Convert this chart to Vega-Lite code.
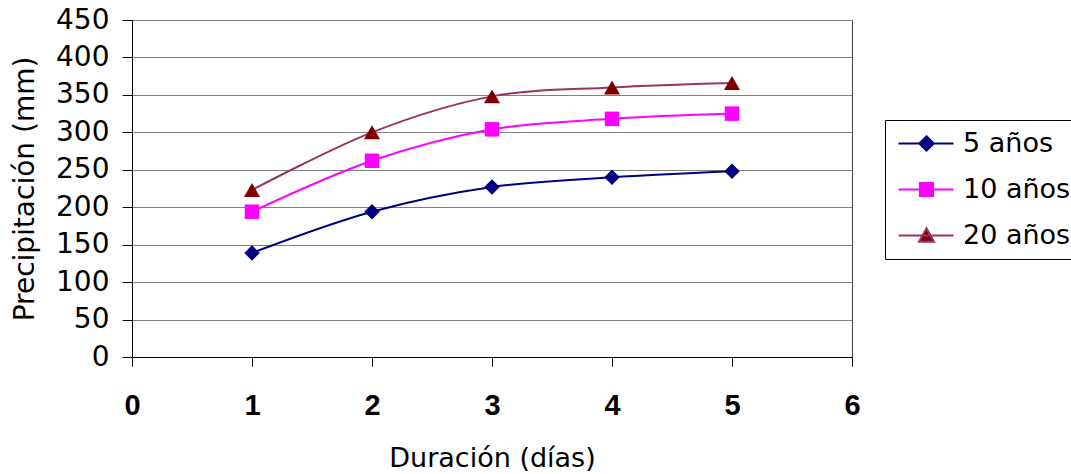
{
  "$schema": "https://vega.github.io/schema/vega-lite/v6.json",
  "width": 720,
  "height": 337,
  "autosize": "none",
  "padding": {"left": 132, "top": 20, "right": 219, "bottom": 117},
  "background": "white",
  "config": {
    "view": {"stroke": "#404040", "strokeWidth": 1},
    "font": "DejaVu Sans"
  },
  "data": {
    "values": [
      {"serie": "5 años", "dias": 1, "mm": 139},
      {"serie": "5 años", "dias": 2, "mm": 194},
      {"serie": "5 años", "dias": 3, "mm": 227},
      {"serie": "5 años", "dias": 4, "mm": 240},
      {"serie": "5 años", "dias": 5, "mm": 248},
      {"serie": "10 años", "dias": 1, "mm": 194},
      {"serie": "10 años", "dias": 2, "mm": 262},
      {"serie": "10 años", "dias": 3, "mm": 304},
      {"serie": "10 años", "dias": 4, "mm": 318},
      {"serie": "10 años", "dias": 5, "mm": 325},
      {"serie": "20 años", "dias": 1, "mm": 223},
      {"serie": "20 años", "dias": 2, "mm": 300},
      {"serie": "20 años", "dias": 3, "mm": 348},
      {"serie": "20 años", "dias": 4, "mm": 360},
      {"serie": "20 años", "dias": 5, "mm": 366}
    ]
  },
  "encoding": {
    "x": {
      "field": "dias",
      "type": "quantitative",
      "scale": {"domain": [0, 6], "nice": false, "zero": false},
      "axis": {
        "title": "Duración (días)",
        "values": [0, 1, 2, 3, 4, 5, 6],
        "format": "d",
        "grid": false,
        "labelFont": "Liberation Sans",
        "labelFontWeight": "bold",
        "labelFontSize": 29,
        "labelColor": "#000",
        "labelPadding": 25,
        "labelFlush": false,
        "labelOverlap": false,
        "tickSize": 9,
        "tickColor": "#000",
        "domainColor": "#000",
        "titleFont": "DejaVu Sans",
        "titleFontSize": 27,
        "titleFontWeight": "normal",
        "titleColor": "#000",
        "titlePadding": 25
      }
    },
    "y": {
      "field": "mm",
      "type": "quantitative",
      "scale": {"domain": [0, 450], "nice": false},
      "axis": {
        "title": "Precipitación (mm)",
        "values": [0, 50, 100, 150, 200, 250, 300, 350, 400, 450],
        "grid": true,
        "gridColor": "#808080",
        "gridWidth": 1,
        "labelFont": "DejaVu Sans",
        "labelFontSize": 28,
        "labelColor": "#000",
        "labelPadding": 13,
        "labelFlush": false,
        "labelOverlap": false,
        "tickSize": 10,
        "tickColor": "#000",
        "domainColor": "#000",
        "titleFont": "DejaVu Sans",
        "titleFontSize": 28,
        "titleFontWeight": "normal",
        "titleColor": "#000",
        "titlePadding": 16
      }
    }
  },
  "layer": [
    {
      "mark": {"type": "line", "interpolate": "cardinal", "strokeWidth": 2},
      "encoding": {
        "color": {
          "field": "serie",
          "type": "nominal",
          "scale": {"domain": ["5 años", "10 años", "20 años"], "range": ["#000080", "#FF00FF", "#993366"]},
          "legend": {
            "title": null,
            "orient": "none",
            "legendX": 753,
            "legendY": 100,
            "padding": 10,
            "rowPadding": 18,
            "symbolSize": 400,
            "labelFont": "DejaVu Sans",
            "labelFontSize": 27,
            "labelColor": "#000",
            "labelOffset": 41,
            "strokeColor": "#000",
            "fillColor": "white",
            "encode": {
              "symbols": {
                "update": {
                  "shape": {"signal": "datum.value === '5 años' ? 'M-1,0H4.5M1.8,-0.72L2.52,0L1.8,0.72L1.08,0Z' : datum.value === '10 años' ? 'M-1,0H4.5M1.15,-0.65H2.45V0.65H1.15Z' : 'M-1,0H4.5M1.8,-0.72L2.55,0.62L1.05,0.62Z'"},
                  "fill": {"signal": "datum.value === '5 años' ? '#000080' : datum.value === '10 años' ? '#FF00FF' : '#800000'"},
                  "stroke": {"signal": "datum.value === '5 años' ? '#000080' : datum.value === '10 años' ? '#FF00FF' : '#993366'"},
                  "strokeWidth": {"value": 2},
                  "opacity": {"value": 1},
                  "fillOpacity": {"value": 1}
                }
              }
            }
          }
        }
      }
    },
    {
      "transform": [{"filter": "datum.serie === '5 años'"}],
      "mark": {"type": "point", "shape": "diamond", "filled": true, "color": "#000080", "opacity": 1, "size": 240}
    },
    {
      "transform": [{"filter": "datum.serie === '10 años'"}],
      "mark": {"type": "point", "shape": "square", "filled": true, "color": "#FF00FF", "opacity": 1, "size": 210}
    },
    {
      "transform": [{"filter": "datum.serie === '20 años'"}],
      "mark": {"type": "point", "shape": "triangle-up", "filled": true, "color": "#800000", "opacity": 1, "size": 260}
    }
  ]
}
